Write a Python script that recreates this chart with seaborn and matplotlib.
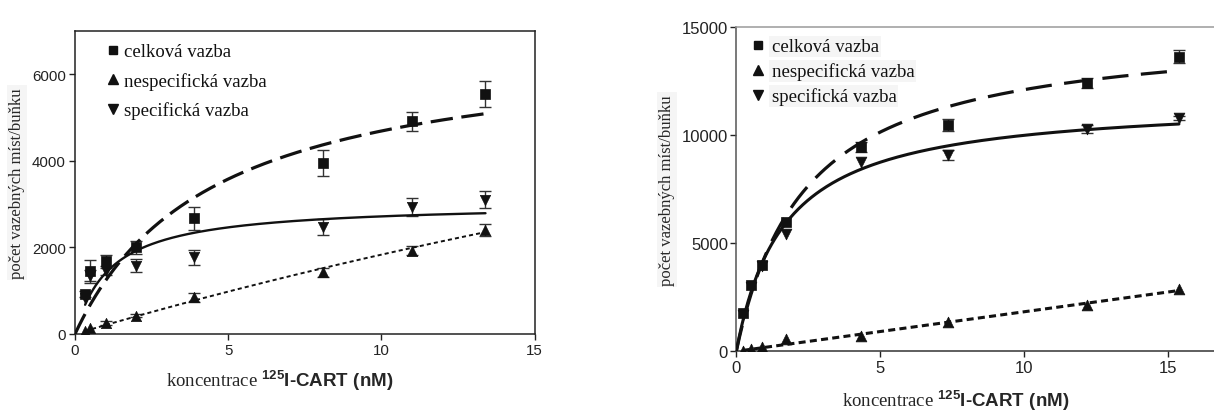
import numpy as np
import pandas as pd
import matplotlib
matplotlib.use("Agg")
import matplotlib.pyplot as plt
from matplotlib.lines import Line2D
import seaborn as sns

# ---- data: panel A (first cell line) ----
conc_a = [0.33, 0.48, 1.0, 2.0, 3.9, 8.1, 11.0, 13.4]
total_a = [924, 1463, 1679, 2002, 2672, 3950, 4913, 5544]
total_a_err = [60, 250, 150, 150, 270, 300, 220, 290]
nonspec_a = [70, 150, 254, 423, 847, 1425, 1924, 2409]
nonspec_a_err = [0, 0, 40, 40, 100, 100, 100, 135]
spec_a = [840, 1332, 1463, 1578, 1771, 2465, 2927, 3102]
spec_a_err = [0, 150, 100, 150, 170, 186, 205, 200]

# fitted saturation curves (Bmax, Kd) for panel A
fit_total_a = (6800, 4.5)
fit_spec_a = (3030, 1.15)
fit_nonspec_a = (14300, 68.0)

# ---- data: panel B (second cell line) ----
conc_b = [0.22, 0.51, 0.89, 1.72, 4.35, 7.37, 12.19, 15.38]
total_b = [1770, 3070, 4000, 6000, 9440, 10480, 12420, 13640]
total_b_err = [0, 0, 0, 0, 230, 290, 215, 310]
nonspec_b = [30, 110, 190, 570, 730, 1340, 2150, 2890]
nonspec_b_err = [0, 0, 0, 0, 0, 0, 0, 0]
spec_b = [1700, 3000, 3950, 5430, 8750, 9090, 10290, 10790]
spec_b_err = [0, 0, 0, 0, 0, 230, 190, 100]

fit_total_b = (15019, 2.40)
fit_spec_b = (11659, 1.66)
nonspec_slope_b = 183.0

labels = ["celková vazba", "nespecifická vazba", "specifická vazba"]
ylabel = "počet vazebných míst/buňku"
xlabel = r"koncentrace $^{125}\mathrm{I\text{-}CART\ (nM)}$"


def saturation(x, bmax, kd):
    return bmax * x / (kd + x)


sns.set_theme(style="ticks")
plt.rcParams.update({
    "font.family": ["Liberation Sans", "DejaVu Sans"],
    "mathtext.fontset": "custom",
    "mathtext.rm": "Liberation Sans:bold",
    "mathtext.it": "Liberation Sans:bold",
    "mathtext.bf": "Liberation Sans:bold",
    "axes.edgecolor": "#222222",
    "xtick.color": "#222222",
    "ytick.color": "#222222",
    "text.color": "#111111",
})

serif = ["Liberation Serif", "DejaVu Serif"]
INK = "#111111"

W, H = 1214, 414
fig = plt.figure(figsize=(W / 100, H / 100), dpi=100)
fig.patch.set_facecolor("white")
axA = fig.add_axes([75 / W, 1 - 335 / H, 459.5 / W, 303 / H])
axB = fig.add_axes([736.3 / W, 1 - 352.3 / H, (W - 736.3) / W, 324 / H])


def draw_points(ax, x, y, err, marker, size):
    df = pd.DataFrame({"x": x, "y": y, "err": err})
    e = df[df["err"] > 0]
    if len(e):
        ax.errorbar(e["x"], e["y"], yerr=e["err"], fmt="none", ecolor="#333333",
                    elinewidth=1.0, capsize=4, capthick=1.0, zorder=2)
    sns.scatterplot(data=df, x="x", y="y", marker=marker, s=size, color=INK,
                    edgecolor=INK, linewidth=0.5, ax=ax, zorder=4, legend=False)


def draw_curve(ax, xs, ys, lw, ls):
    sns.lineplot(x=xs, y=ys, ax=ax, color=INK, lw=lw, linestyle=ls,
                 sort=False, estimator=None, legend=False, zorder=3)


# ---- panel A ----
xa_t = np.linspace(0, 13.4, 300)
xa_s = np.linspace(conc_a[0], 13.4, 300)
draw_curve(axA, xa_t, saturation(xa_t, *fit_total_a), 2.3, (0, (7, 2.7)))
draw_curve(axA, xa_s, saturation(xa_s, *fit_spec_a), 1.7, "-")
draw_curve(axA, xa_s, saturation(xa_s, *fit_nonspec_a), 1.4, (0, (2.1, 1.6)))
draw_points(axA, conc_a, total_a, total_a_err, "s", 45)
draw_points(axA, conc_a, nonspec_a, nonspec_a_err, "^", 55)
draw_points(axA, conc_a, spec_a, spec_a_err, "v", 55)

axA.set_xlim(0, 15)
axA.set_ylim(0, 7000)
axA.set_xticks([0, 5, 10, 15])
axA.set_yticks([0, 2000, 4000, 6000])
for s in axA.spines.values():
    s.set_linewidth(1.1)
    s.set_visible(True)
axA.tick_params(direction="out", length=4, width=1.0, labelsize=10.8, pad=2.5)

# ---- panel B ----
xb = np.linspace(0, conc_b[-1], 300)
xb_n = np.linspace(conc_b[0], conc_b[-1], 50)
draw_curve(axB, xb, saturation(xb, *fit_total_b), 2.3, (0, (8.2, 3.9)))
draw_curve(axB, xb, saturation(xb, *fit_spec_b), 2.2, "-")
draw_curve(axB, xb_n, nonspec_slope_b * xb_n, 2.2, (0, (2.3, 1.4)))
draw_points(axB, conc_b, total_b, total_b_err, "s", 55)
draw_points(axB, conc_b, nonspec_b, nonspec_b_err, "^", 60)
draw_points(axB, conc_b, spec_b, spec_b_err, "v", 60)

axB.set_xlim(0, (W - 736.3) / 28.78)
axB.set_ylim(0, 15000)
axB.set_xticks([0, 5, 10, 15])
axB.set_yticks([0, 5000, 10000, 15000])
axB.spines["right"].set_visible(False)
axB.spines["top"].set_visible(True)
axB.spines["top"].set_color("#9a9a9a")
axB.spines["left"].set_color("#555555")
axB.spines["bottom"].set_color("#333333")
for s in axB.spines.values():
    s.set_linewidth(1.1)
axB.tick_params(direction="out", length=4, width=1.0, labelsize=12, pad=2)

# ---- labels and legends ----
handles = [
    Line2D([], [], ls="none", marker="s", ms=6, color=INK),
    Line2D([], [], ls="none", marker="^", ms=6.5, color=INK),
    Line2D([], [], ls="none", marker="v", ms=6.5, color=INK),
]
box = dict(facecolor="#f5f5f5", edgecolor="none", pad=1.5)

for ax, lx, ly, ypad_x, anchor, lsp, tpad in [
    (axA, 0.446, -0.171, -0.126, (0.066, 0.96), 0.62, 0.2),
    (axB, 0.46, -0.169, -0.145, (0.029, 0.967), 0.38, 0.34),
]:
    ax.set_xlabel(xlabel, fontsize=13.5, family=serif)
    ax.xaxis.label.set_va("baseline")
    ax.xaxis.set_label_coords(lx, ly)
    ax.set_ylabel(ylabel, fontsize=12, family=serif, va="center")
    ax.yaxis.set_label_coords(ypad_x, 0.5)
    leg = ax.legend(handles, labels, loc="upper left", bbox_to_anchor=anchor,
                    frameon=False, borderaxespad=0, borderpad=0,
                    handlelength=0.8, handletextpad=tpad, labelspacing=lsp,
                    prop={"family": serif, "size": 13.5})
    if ax is axB:
        ax.yaxis.label.set_bbox(box)
        for t in leg.get_texts():
            t.set_bbox(box)
    ax.set_facecolor("white")

axA.yaxis.label.set_bbox(box)

fig.savefig("out.png", dpi=100, facecolor="white")
